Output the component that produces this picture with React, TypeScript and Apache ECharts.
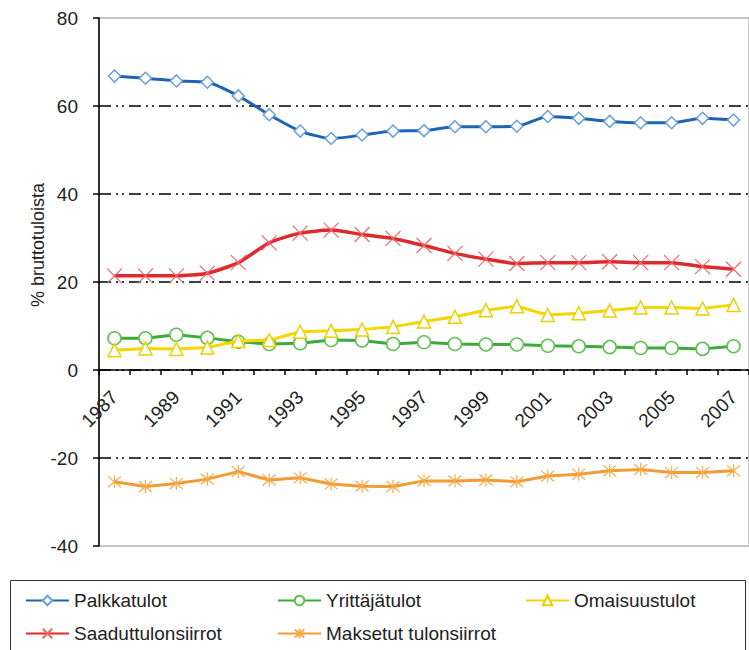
import React, { useEffect, useRef } from "react";
import * as echarts from "echarts";

const years = ["1987","1988","1989","1990","1991","1992","1993","1994","1995","1996","1997","1998","1999","2000","2001","2002","2003","2004","2005","2006","2007"];
const palkkatulot = [66.8, 66.3, 65.7, 65.4, 62.3, 58.0, 54.3, 52.6, 53.4, 54.3, 54.4, 55.3, 55.3, 55.4, 57.6, 57.2, 56.5, 56.2, 56.2, 57.2, 56.8];
const yrittajatulot = [7.2, 7.2, 8.0, 7.3, 6.4, 5.9, 6.1, 6.8, 6.7, 5.9, 6.3, 5.9, 5.8, 5.8, 5.5, 5.4, 5.2, 5.0, 5.0, 4.8, 5.4];
const omaisuustulot = [4.5, 4.9, 4.8, 5.1, 6.6, 6.8, 8.7, 8.9, 9.2, 9.8, 11.0, 12.1, 13.6, 14.5, 12.5, 12.9, 13.5, 14.2, 14.2, 14.0, 14.8];
const saadutTulonsiirrot = [21.4, 21.4, 21.4, 22.0, 24.4, 28.9, 31.1, 31.8, 30.8, 29.9, 28.3, 26.5, 25.2, 24.2, 24.4, 24.4, 24.6, 24.4, 24.4, 23.5, 22.9];
const maksetutTulonsiirrot = [-25.4, -26.5, -25.8, -24.8, -23.1, -25.0, -24.5, -25.9, -26.4, -26.5, -25.2, -25.2, -25.0, -25.4, -24.1, -23.7, -22.9, -22.6, -23.3, -23.3, -22.9];
const seriesNames = ["Palkkatulot", "Yrittäjätulot", "Omaisuustulot", "Saaduttulonsiirrot", "Maksetut tulonsiirrot"];
const yAxisTitle = "% bruttotuloista";

const FONT = "'Liberation Sans', Arial, sans-serif";
const X_SYMBOL = "path://M0,0L10,10M10,0L0,10";
const STAR_SYMBOL = "path://M0,0L10,10M10,0L0,10M5,-1L5,11";

export default function App() {
  const ref = useRef<HTMLDivElement>(null);
  useEffect(() => {
    if (!ref.current) return;
    const chart = echarts.init(ref.current, null, { renderer: "svg" });
    const legendText = { fontSize: 19, color: "#222", fontFamily: FONT };
    const legendCommon = { orient: "horizontal", itemWidth: 43, itemHeight: 12, itemGap: 0, textStyle: legendText, padding: 0, selectedMode: false };
    chart.setOption({
      animation: false,
      backgroundColor: "#fff",
      textStyle: { fontFamily: FONT },
      grid: { left: 99, right: -2, top: 18, bottom: 104, show: true, borderColor: "#8c8c8c", borderWidth: 1, backgroundColor: "transparent" },
      xAxis: {
        type: "category",
        data: years,
        boundaryGap: true,
        offset: -176,
        axisLine: { onZero: false, lineStyle: { color: "#000", width: 1.5 } },
        axisTick: { show: true, interval: 0, length: 5, inside: false, lineStyle: { color: "#000", width: 1.5 } },
        axisLabel: { interval: 1, rotate: 45, margin: 24, fontSize: 19, color: "#222", fontFamily: FONT },
        splitLine: { show: false },
      },
      yAxis: {
        type: "value",
        min: -40,
        max: 80,
        interval: 20,
        axisLine: { show: true, lineStyle: { color: "#000", width: 1.5 } },
        axisTick: { show: true, length: 6, lineStyle: { color: "#000", width: 1.5 } },
        axisLabel: { margin: 21, fontSize: 19, color: "#222", fontFamily: FONT },
        splitLine: {
          show: true,
          showMinLine: false,
          showMaxLine: false,
          lineStyle: { color: "#000", width: 1.5, type: [12, 5, 2, 4, 2, 5] },
        },
      },
      legend: [
        { ...legendCommon, data: [seriesNames[0]], left: 25, top: 591 },
        { ...legendCommon, data: [seriesNames[1]], left: 277, top: 591 },
        { ...legendCommon, data: [seriesNames[2]], left: 525, top: 591 },
        { ...legendCommon, data: [seriesNames[3]], left: 25, top: 624 },
        { ...legendCommon, data: [seriesNames[4]], left: 277, top: 624 },
      ],
      graphic: [
        {
          type: "rect",
          shape: { x: 10.5, y: 580.5, width: 735, height: 80 },
          style: { fill: "none", stroke: "#333", lineWidth: 1 },
          silent: true,
        },
        {
          type: "text",
          x: 38,
          y: 245,
          rotation: Math.PI / 2,
          style: { text: yAxisTitle, fontSize: 18, fill: "#222", fontFamily: FONT, align: "center", verticalAlign: "middle" },
          silent: true,
        },
      ],
      series: [
        {
          name: seriesNames[0], type: "line", data: palkkatulot, smooth: 0.2,
          symbol: "diamond", symbolSize: 12, z: 5,
          lineStyle: { color: "#1f64b4", width: 3 },
          itemStyle: { color: "#fff", borderColor: "#6a9fd8", borderWidth: 1.5 },
        },
        {
          name: seriesNames[1], type: "line", data: yrittajatulot,
          symbol: "circle", symbolSize: 13, z: 3,
          lineStyle: { color: "#3caa3c", width: 3 },
          itemStyle: { color: "#fff", borderColor: "#5cc24e", borderWidth: 1.5 },
        },
        {
          name: seriesNames[2], type: "line", data: omaisuustulot,
          symbol: "triangle", symbolSize: 13, z: 4,
          lineStyle: { color: "#f5d600", width: 3 },
          itemStyle: { color: "#fff", borderColor: "#ecd000", borderWidth: 1.5 },
        },
        {
          name: seriesNames[3], type: "line", data: saadutTulonsiirrot, smooth: 0.2,
          symbol: X_SYMBOL, symbolSize: 15, z: 5,
          lineStyle: { color: "#dc2a30", width: 3.5 },
          itemStyle: { color: "none", borderColor: "#ee6a6a", borderWidth: 1.2 },
        },
        {
          name: seriesNames[4], type: "line", data: maksetutTulonsiirrot,
          symbol: STAR_SYMBOL, symbolSize: 13, z: 5,
          lineStyle: { color: "#f39b34", width: 3 },
          itemStyle: { color: "none", borderColor: "#f5aa4c", borderWidth: 1.2 },
        },
      ],
    });
    return () => chart.dispose();
  }, []);
  return <div ref={ref} style={{ position: "fixed", left: 0, top: 0, width: 749, height: 650 }} />;
}
